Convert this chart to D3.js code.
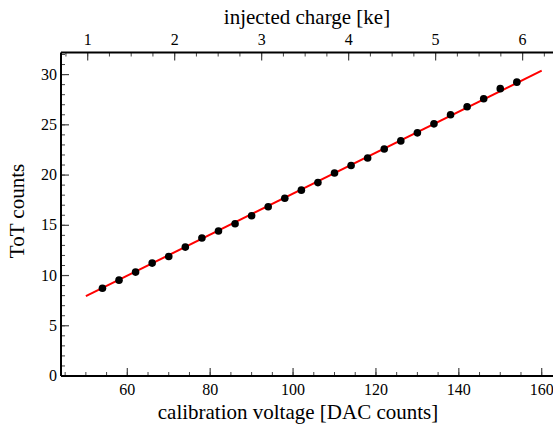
<!DOCTYPE html>
<html><head><meta charset="utf-8">
<script src="https://cdn.jsdelivr.net/npm/d3@7"></script>
<style>
html,body{margin:0;padding:0;background:#fff;}
svg{display:block;}
svg text{font-family:"Liberation Serif","DejaVu Serif",serif;}
</style></head>
<body>
<svg id="chart" width="553" height="426"></svg>
<script>
// Data
const dacValues = [54,58,62,66,70,74,78,82,86,90,94,98,102,106,110,114,118,122,126,130,134,138,142,146,150,154];
const totValues = [8.74,9.54,10.34,11.24,11.9,12.83,13.73,14.43,15.15,15.95,16.85,17.7,18.5,19.25,20.2,20.95,21.7,22.6,23.4,24.2,25.1,26.0,26.8,27.6,28.6,29.25];
const fitX = [50,160];
const fitY = [7.95,30.4];
const xTicks = [60,80,100,120,140,160];
const yTicks = [0,5,10,15,20,25,30];
const chargeTicks = [1,2,3,4,5,6];
const dacPerKe = 20.99, dacOffset = 29.45;

const svg = d3.select("#chart").attr("font-family","Liberation Serif, DejaVu Serif, serif");
const L = 61, T = 52.5, B = 376;
const xDomain = [44,166];
const x = d3.scaleLinear().domain(xDomain).range([L, L + 4.144*(xDomain[1]-xDomain[0])]);
const y = d3.scaleLinear().domain([0,32.2]).range([B, T]);
const xq = d3.scaleLinear().domain(xDomain.map(d => (d - dacOffset)/dacPerKe)).range(x.range());

const tickCol = "#444";
function minorRange(a,b,s){const r=[];for(let v=a;v<=b+1e-9;v+=s)r.push(+v.toFixed(4));return r;}

// bottom axis
const gB = svg.append("g").attr("transform",`translate(0,${B})`);
gB.selectAll("line.mi").data(minorRange(45,165,5)).join("line")
  .attr("x1",d=>x(d)).attr("x2",d=>x(d)).attr("y1",0).attr("y2",-4).attr("stroke",tickCol).attr("stroke-width",1);
gB.selectAll("line.ma").data(xTicks).join("line")
  .attr("x1",d=>x(d)).attr("x2",d=>x(d)).attr("y1",0).attr("y2",-8).attr("stroke",tickCol).attr("stroke-width",1.2);
gB.selectAll("text").data(xTicks).join("text")
  .attr("x",d=>x(d)).attr("y",19).attr("text-anchor","middle").attr("font-size",16).text(d=>d);

// top axis
const gT = svg.append("g").attr("transform",`translate(0,${T})`);
gT.selectAll("line.mi").data(minorRange(0.75,6.5,0.25)).join("line")
  .attr("x1",d=>xq(d)).attr("x2",d=>xq(d)).attr("y1",0).attr("y2",4).attr("stroke",tickCol).attr("stroke-width",1);
gT.selectAll("line.ma").data(chargeTicks).join("line")
  .attr("x1",d=>xq(d)).attr("x2",d=>xq(d)).attr("y1",0).attr("y2",8).attr("stroke",tickCol).attr("stroke-width",1.2);
gT.selectAll("text").data(chargeTicks).join("text")
  .attr("x",d=>xq(d)).attr("y",-8).attr("text-anchor","middle").attr("font-size",16).text(d=>d);

// left axis
const gL = svg.append("g").attr("transform",`translate(${L},0)`);
gL.selectAll("line.mi").data(minorRange(0,32,1)).join("line")
  .attr("x1",0).attr("x2",4).attr("y1",d=>y(d)).attr("y2",d=>y(d)).attr("stroke",tickCol).attr("stroke-width",1);
gL.selectAll("line.ma").data(yTicks).join("line")
  .attr("x1",0).attr("x2",8).attr("y1",d=>y(d)).attr("y2",d=>y(d)).attr("stroke",tickCol).attr("stroke-width",1.2);
gL.selectAll("text").data(yTicks).join("text")
  .attr("x",-4).attr("y",d=>y(d)+5).attr("text-anchor","end").attr("font-size",16).text(d=>d);

// frame lines
svg.append("line").attr("x1",L).attr("x2",553).attr("y1",B).attr("y2",B).attr("stroke","#000").attr("stroke-width",2);
svg.append("line").attr("x1",L).attr("x2",553).attr("y1",T).attr("y2",T).attr("stroke","#000").attr("stroke-width",2);
svg.append("line").attr("x1",L).attr("x2",L).attr("y1",T).attr("y2",B).attr("stroke","#000").attr("stroke-width",2);

// fit line
svg.append("path").datum(fitX.map((d,i)=>[d,fitY[i]]))
  .attr("d", d3.line().x(d=>x(d[0])).y(d=>y(d[1])))
  .attr("stroke","#ff0000").attr("stroke-width",2).attr("fill","none");

// points
svg.append("g").selectAll("circle").data(dacValues.map((d,i)=>[d,totValues[i]])).join("circle")
  .attr("cx",d=>x(d[0])).attr("cy",d=>y(d[1])).attr("r",3.8).attr("fill","#000");

// titles
svg.append("text").attr("x",298).attr("y",419).attr("text-anchor","middle").attr("font-size",21)
  .text("calibration voltage [DAC counts]");
svg.append("text").attr("x",307).attr("y",24).attr("text-anchor","middle").attr("font-size",21)
  .text("injected charge [ke]");
svg.append("text").attr("transform",`translate(24,211) rotate(-90)`).attr("text-anchor","middle").attr("font-size",21)
  .text("ToT counts");
</script>
</body></html>
